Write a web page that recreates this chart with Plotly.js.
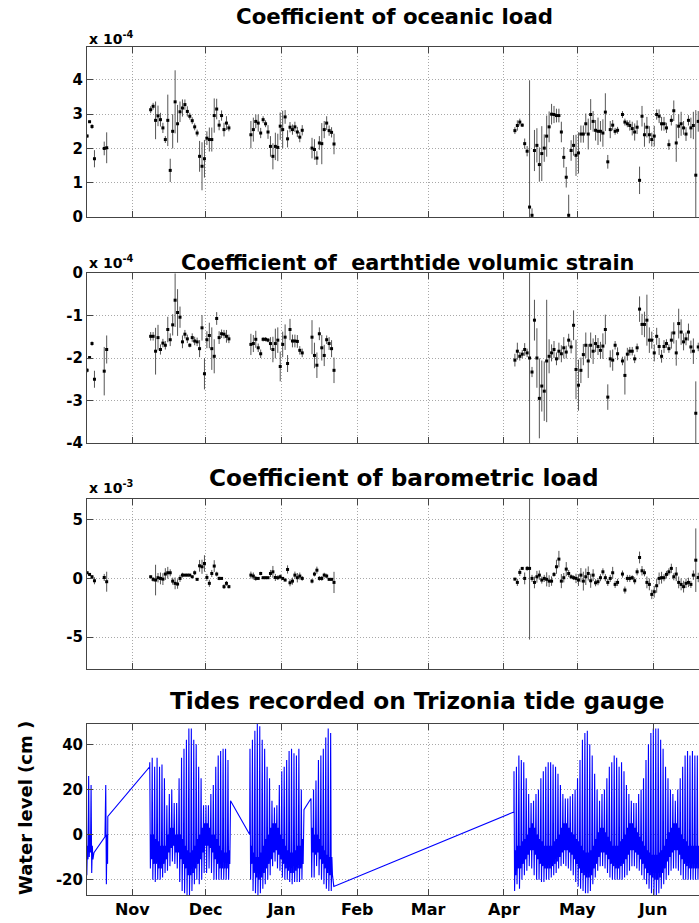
<!DOCTYPE html>
<html><head><meta charset="utf-8">
<script src="https://cdn.plot.ly/plotly-3.0.1.min.js"></script>
<style>html,body{margin:0;padding:0;background:#fff;overflow:hidden}#chart{width:699px;height:923px}</style>
</head><body><div id="chart"></div>
<script>
// ---- sampling days of the fitted coefficients (one estimate per day, at noon)
const coefDates = [
'2003-10-13','2003-10-14','2003-10-15','2003-10-16','2003-10-20','2003-10-21',
'2003-11-08','2003-11-09','2003-11-10','2003-11-11','2003-11-12','2003-11-13','2003-11-14','2003-11-15','2003-11-16','2003-11-17',
'2003-11-18','2003-11-19','2003-11-20','2003-11-21','2003-11-22','2003-11-23','2003-11-24','2003-11-25','2003-11-26','2003-11-27',
'2003-11-28','2003-11-29','2003-11-30','2003-12-01','2003-12-02','2003-12-03','2003-12-04','2003-12-05','2003-12-06','2003-12-07',
'2003-12-08','2003-12-09','2003-12-10',
'2003-12-19','2003-12-20','2003-12-21','2003-12-22','2003-12-23','2003-12-24','2003-12-25','2003-12-26','2003-12-27','2003-12-28',
'2003-12-29','2003-12-30','2003-12-31','2004-01-01','2004-01-02','2004-01-03','2004-01-04','2004-01-05','2004-01-06','2004-01-07',
'2004-01-08','2004-01-09',
'2004-01-13','2004-01-14','2004-01-15','2004-01-16','2004-01-17','2004-01-18','2004-01-19','2004-01-20','2004-01-21','2004-01-22',
'2004-04-05','2004-04-06','2004-04-07','2004-04-08','2004-04-09','2004-04-10','2004-04-11','2004-04-12','2004-04-13','2004-04-14',
'2004-04-15','2004-04-16','2004-04-17','2004-04-18','2004-04-19','2004-04-20','2004-04-21','2004-04-22','2004-04-23','2004-04-24',
'2004-04-25','2004-04-26','2004-04-27','2004-04-28','2004-04-29','2004-04-30',
'2004-05-01','2004-05-02','2004-05-03','2004-05-04','2004-05-05','2004-05-06','2004-05-07','2004-05-08','2004-05-09','2004-05-10',
'2004-05-11','2004-05-12','2004-05-13','2004-05-14','2004-05-15','2004-05-16','2004-05-17',
'2004-05-19','2004-05-20','2004-05-21','2004-05-22','2004-05-23','2004-05-24','2004-05-25','2004-05-26','2004-05-27','2004-05-28',
'2004-05-29','2004-05-30','2004-05-31',
'2004-06-01','2004-06-02','2004-06-03','2004-06-04','2004-06-05','2004-06-06','2004-06-07','2004-06-08','2004-06-09','2004-06-10',
'2004-06-11','2004-06-12','2004-06-13','2004-06-14','2004-06-15','2004-06-16','2004-06-17','2004-06-18','2004-06-19'];

// ---- coefficient of oceanic load (x 1e-4)
const oceanic = [
2.36,2.78,2.64,1.70,2.00,2.02,
3.13,3.23,2.82,2.95,2.84,2.60,2.26,2.82,1.36,2.50,3.36,2.72,3.07,3.18,3.28,3.08,2.94,2.81,2.63,2.45,1.77,1.48,1.70,2.30,2.26,2.26,2.96,3.15,2.68,2.96,2.55,2.74,2.60,
2.40,2.55,2.79,2.74,2.45,2.84,2.72,2.48,2.06,1.77,2.06,2.03,2.65,2.55,2.92,2.28,2.62,2.55,2.63,2.48,2.33,2.53,
2.01,1.97,1.72,2.16,2.14,2.55,2.74,2.52,2.47,2.13,
2.52,2.67,2.77,2.68,2.14,1.92,0.29,0.05,1.94,2.09,1.53,1.85,2.01,2.36,2.63,3.00,2.99,2.96,2.96,2.48,1.74,1.16,0.05,1.94,2.09,1.80,
1.87,2.42,2.42,2.72,2.42,2.99,2.79,2.53,2.50,2.50,2.45,3.06,1.61,2.55,2.68,2.50,2.53,
2.99,2.77,2.72,2.67,2.58,2.48,2.62,1.07,2.94,2.40,2.62,2.40,2.26,
2.36,2.99,2.94,2.72,2.72,2.60,2.11,2.82,3.10,2.16,2.65,2.72,2.60,2.42,2.82,2.60,2.67,1.22,2.79];
const oceanicErr = [
0.05,0.03,0.07,0.25,0.20,0.45,
0.10,0.10,0.55,0.30,0.20,0.15,0.10,0.75,0.34,0.50,0.92,0.55,0.30,0.25,0.15,0.15,0.10,0.10,0.10,0.10,0.45,0.70,0.55,0.20,0.35,0.35,0.50,0.30,0.15,0.15,0.20,0.20,0.10,
0.40,0.35,0.20,0.25,0.15,0.10,0.10,0.20,0.30,0.38,0.40,0.40,0.40,0.55,0.20,0.25,0.15,0.15,0.15,0.15,0.15,0.15,
0.30,0.30,0.20,0.20,0.60,0.25,0.20,0.15,0.15,0.30,
0.10,0.15,0.10,0.05,0.15,0.15,3.70,0.20,0.60,0.50,0.50,0.80,0.40,0.60,0.45,0.30,0.25,0.20,0.20,0.30,0.30,0.30,0.60,0.30,0.30,0.60,
0.60,0.25,0.25,0.30,0.45,0.45,0.30,0.30,0.40,0.30,0.40,0.55,0.20,0.25,0.15,0.10,0.10,
0.10,0.10,0.10,0.15,0.20,0.25,0.20,0.40,0.30,0.35,0.30,0.25,0.20,
0.30,0.15,0.20,0.20,0.20,0.15,0.15,0.15,0.30,0.55,0.35,0.35,0.20,0.20,0.15,0.30,0.40,1.90,0.30];

// ---- coefficient of earthtide volumic strain (x 1e-4)
const earthtide = [
-2.29,-1.99,-1.66,-2.50,-2.31,-1.80,
-1.49,-1.49,-1.84,-1.52,-1.80,-1.65,-1.70,-1.33,-1.57,-1.22,-0.64,-0.93,-1.04,-1.62,-1.44,-1.55,-1.70,-1.52,-1.60,-1.62,-1.78,-1.29,-2.37,-1.57,-1.47,-1.78,-1.96,-1.07,-1.52,-1.43,-1.44,-1.49,-1.55,
-1.68,-1.66,-1.56,-1.76,-1.90,-1.56,-1.56,-1.58,-1.66,-1.80,-1.66,-1.58,-2.20,-1.68,-1.51,-2.13,-1.33,-1.60,-1.60,-1.61,-1.82,-1.88,
-1.51,-1.94,-2.17,-1.43,-1.76,-1.94,-1.57,-1.66,-1.78,-2.29,
-2.05,-1.84,-1.96,-1.91,-1.80,-1.88,-2.00,-2.33,-1.11,-2.00,-2.95,-2.66,-2.78,-2.07,-1.96,-1.88,-1.80,-2.02,-1.84,-1.90,-1.76,-1.86,-1.58,-1.74,-1.23,-2.27,
-2.64,-2.29,-1.92,-1.70,-2.07,-1.70,-1.84,-1.66,-1.73,-1.82,-1.72,-1.33,-2.92,-2.02,-2.05,-1.70,-1.90,
-2.07,-2.41,-1.91,-1.84,-1.84,-2.02,-1.76,-0.85,-1.21,-1.21,-1.11,-1.58,-1.58,
-1.88,-1.49,-1.73,-1.96,-1.73,-1.66,-1.78,-1.58,-1.41,-1.88,-1.19,-1.39,-1.62,-1.55,-1.39,-1.74,-1.84,-3.30,-1.74];
const earthtideErr = [
0.05,0.03,0.05,0.20,0.57,0.33,
0.10,0.10,0.55,0.30,0.12,0.10,0.10,0.30,0.15,0.25,0.63,0.55,0.25,0.15,0.10,0.10,0.05,0.10,0.10,0.10,0.20,0.30,0.37,0.20,0.30,0.50,0.40,0.15,0.15,0.10,0.10,0.15,0.10,
0.25,0.20,0.20,0.10,0.10,0.05,0.05,0.05,0.15,0.30,0.35,0.30,0.35,0.30,0.30,0.20,0.25,0.15,0.15,0.15,0.10,0.10,
0.40,0.30,0.30,0.15,0.30,0.25,0.10,0.15,0.20,0.30,
0.15,0.20,0.10,0.10,0.15,0.10,2.50,0.12,0.48,0.70,0.94,0.60,0.70,1.44,0.40,0.20,0.20,0.15,0.20,0.20,0.25,0.15,0.15,0.15,0.35,0.70,
0.60,0.30,0.25,0.30,0.40,0.30,0.30,0.20,0.20,0.20,0.30,0.35,0.30,0.20,0.25,0.10,0.15,
0.10,0.45,0.15,0.10,0.10,0.10,0.10,0.30,0.25,0.30,0.60,0.30,0.20,
0.20,0.20,0.20,0.15,0.15,0.10,0.10,0.20,0.25,0.30,0.35,0.30,0.20,0.15,0.20,0.15,0.30,0.75,0.10];

// ---- coefficient of barometric load (x 1e-3)
const barometric = [
0.48,0.34,0.14,-0.20,0.08,-0.28,
0.14,-0.08,-0.14,0.06,0.00,-0.06,0.37,0.48,0.48,-0.23,-0.42,-0.48,0.00,0.28,0.28,0.28,0.28,0.14,0.48,-0.08,1.07,0.99,1.27,0.08,-0.42,0.42,1.05,0.37,0.00,0.00,-0.70,-0.42,-0.70,
0.28,0.20,0.00,0.00,0.42,0.06,0.06,0.06,0.42,0.56,0.08,0.06,0.14,0.00,-0.14,0.76,-0.37,-0.23,0.28,0.06,0.20,0.00,
-0.23,0.37,0.70,0.00,0.00,0.28,0.20,-0.08,-0.08,-0.34,
-0.06,-0.34,0.51,0.85,0.00,0.85,0.85,0.00,-0.34,0.14,0.28,-0.14,0.00,-0.08,-0.23,-0.23,0.34,0.99,1.64,-0.23,0.06,0.79,0.42,0.14,0.06,0.00,
-0.14,0.28,-0.23,0.14,0.42,-0.20,0.28,-0.37,-0.28,0.06,0.56,0.06,-0.34,0.00,0.48,-0.51,-0.34,
0.37,-0.99,0.00,0.00,0.06,-0.20,0.56,1.78,0.65,0.48,-0.34,-0.51,-1.36,
-1.13,-0.62,0.00,0.06,0.06,0.34,0.56,0.85,0.14,0.37,-0.34,-0.51,-0.70,-0.42,-0.34,-0.51,0.28,1.55,0.08];
const barometricErr = [
0.10,0.10,0.15,0.30,0.30,0.85,
0.10,0.20,1.30,0.40,0.50,0.50,0.50,0.50,0.30,0.30,0.50,0.40,0.30,0.20,0.10,0.10,0.10,0.10,0.20,0.10,0.50,0.60,0.70,0.30,0.30,0.30,0.50,0.20,0.15,0.10,0.20,0.20,0.15,
0.30,0.30,0.20,0.10,0.15,0.10,0.10,0.10,0.30,0.50,0.30,0.20,0.20,0.10,0.10,0.35,0.30,0.30,0.30,0.40,0.30,0.20,
0.20,0.20,0.30,0.20,0.20,0.20,0.20,0.10,0.10,0.90,
0.10,0.30,0.30,0.10,0.50,0.20,6.05,0.30,0.50,0.50,0.40,0.30,0.30,0.60,0.50,0.40,0.20,0.60,0.70,0.60,0.40,0.60,0.30,0.20,0.20,0.40,
0.50,0.60,0.80,0.70,0.60,0.60,0.50,0.30,0.30,0.30,0.30,0.30,0.30,0.30,0.50,0.30,0.30,
0.30,0.30,0.30,0.30,0.20,0.30,0.30,0.50,0.40,0.30,0.50,0.50,0.40,
0.50,0.60,0.50,0.50,0.30,0.30,0.30,0.40,0.30,0.60,0.50,0.50,0.50,0.40,0.40,0.30,0.40,2.70,0.40];

// ---- Trizonia tide gauge, per day: higher high, lower low, lower high, higher low water (cm)
const tideDays = [
'2003-10-13','2003-10-14','2003-10-15','2003-10-21',
'2003-11-08','2003-11-09','2003-11-10','2003-11-11','2003-11-12','2003-11-13','2003-11-14','2003-11-15','2003-11-16','2003-11-17',
'2003-11-18','2003-11-19','2003-11-20','2003-11-21','2003-11-22','2003-11-23','2003-11-24','2003-11-25','2003-11-26','2003-11-27',
'2003-11-28','2003-11-29','2003-11-30','2003-12-01','2003-12-02','2003-12-03','2003-12-04','2003-12-05','2003-12-06','2003-12-07',
'2003-12-08','2003-12-09','2003-12-10',
'2003-12-19','2003-12-20','2003-12-21','2003-12-22','2003-12-23','2003-12-24','2003-12-25','2003-12-26','2003-12-27','2003-12-28',
'2003-12-29','2003-12-30','2003-12-31','2004-01-01','2004-01-02','2004-01-03','2004-01-04','2004-01-05','2004-01-06','2004-01-07',
'2004-01-08','2004-01-09',
'2004-01-13','2004-01-14','2004-01-15','2004-01-16','2004-01-17','2004-01-18','2004-01-19','2004-01-20','2004-01-21',
'2004-04-05','2004-04-06','2004-04-07','2004-04-08','2004-04-09','2004-04-10','2004-04-11','2004-04-12','2004-04-13','2004-04-14',
'2004-04-15','2004-04-16','2004-04-17','2004-04-18','2004-04-19','2004-04-20','2004-04-21','2004-04-22','2004-04-23','2004-04-24',
'2004-04-25','2004-04-26','2004-04-27','2004-04-28','2004-04-29','2004-04-30',
'2004-05-01','2004-05-02','2004-05-03','2004-05-04','2004-05-05','2004-05-06','2004-05-07','2004-05-08','2004-05-09','2004-05-10',
'2004-05-11','2004-05-12','2004-05-13','2004-05-14','2004-05-15','2004-05-16','2004-05-17','2004-05-18','2004-05-19','2004-05-20',
'2004-05-21','2004-05-22','2004-05-23','2004-05-24','2004-05-25','2004-05-26','2004-05-27','2004-05-28','2004-05-29','2004-05-30','2004-05-31',
'2004-06-01','2004-06-02','2004-06-03','2004-06-04','2004-06-05','2004-06-06','2004-06-07','2004-06-08','2004-06-09','2004-06-10',
'2004-06-11','2004-06-12','2004-06-13','2004-06-14','2004-06-15','2004-06-16','2004-06-17','2004-06-18','2004-06-19'];
const tideHigh = [
28,26,22,22,
32,34,30,34,30,31,25,13,18,20,14,14,25,34,38,42,47,47,42,40,30,25,13,13,13,18,22,30,35,37,38,38,33,
38,42,46,49,48,42,38,30,25,15,12,13,22,28,30,33,37,38,36,35,38,20,
10,20,24,33,35,38,43,47,45,
28,30,35,33,32,25,18,14,15,18,20,25,28,30,32,32,31,30,27,22,18,16,16,17,18,20,
25,33,42,45,46,40,35,27,20,15,18,20,25,30,32,35,34,30,32,28,22,18,15,14,14,18,20,25,33,40,45,
47,47,47,42,38,30,25,20,18,15,20,25,30,35,37,35,37,35,35];
const tideLow = [
-18,-10,-17,-22,
-15,-20,-21,-20,-20,-19,-17,-16,-14,-12,-13,-15,-21,-25,-26,-27,-27,-25,-22,-20,-22,-20,-17,-17,-15,-17,-20,-20,-20,-20,-20,-20,-20,
-20,-25,-26,-27,-26,-24,-22,-20,-18,-14,-12,-15,-16,-19,-20,-20,-21,-22,-21,-21,-21,-20,
-19,-19,-14,-18,-20,-22,-24,-25,-25,
-25,-22,-24,-20,-18,-16,-14,-15,-18,-20,-20,-21,-21,-20,-20,-19,-18,-17,-15,-14,-13,-14,-15,-16,-18,-21,
-23,-24,-25,-26,-26,-25,-22,-19,-16,-14,-14,-15,-17,-19,-20,-20,-20,-20,-20,-19,-18,-16,-14,-14,-15,-16,-18,-20,-22,-24,-26,
-27,-27,-26,-24,-22,-20,-18,-16,-15,-15,-16,-18,-20,-20,-20,-20,-20,-20,-20];
const tideLowerHigh = [
-5,0,-5,0,
0,0,-2,-3,-5,-5,-5,0,3,3,0,0,0,-2,-5,-7,-8,-7,-5,-2,0,3,5,5,3,0,0,-2,-5,-7,-8,-8,-7,
-5,-8,-10,-10,-8,-5,-2,0,3,5,5,3,0,-2,-5,-7,-8,-8,-7,-5,-5,-2,
3,0,0,-2,-5,-7,-9,-10,-10,
-7,-5,-5,-3,-2,0,3,5,3,0,-2,-3,-5,-5,-5,-5,-3,-2,0,3,5,5,3,1,0,-2,
-3,-5,-7,-8,-8,-7,-5,-2,1,3,3,1,-1,-3,-5,-5,-5,-3,-2,0,3,5,5,3,1,-1,-3,-5,-7,-8,-9,
-9,-9,-8,-7,-5,-2,1,3,5,5,3,0,-2,-3,-5,-5,-5,-5,-5];
const tideHigherLow = [
-11,-8,-11,-13,
-11,-13,-13,-15,-15,-13,-11,-8,-6,-5,-8,-8,-11,-13,-15,-18,-18,-17,-15,-13,-11,-8,-5,-5,-6,-8,-11,-13,-15,-15,-15,-15,-13,
-13,-17,-19,-20,-19,-17,-15,-13,-11,-8,-7,-9,-11,-13,-15,-16,-17,-17,-16,-15,-15,-13,
-8,-9,-8,-11,-13,-15,-17,-18,-18,
-18,-15,-15,-13,-11,-9,-7,-7,-9,-11,-13,-14,-15,-15,-15,-14,-13,-12,-10,-8,-7,-7,-8,-9,-11,-13,
-15,-17,-18,-19,-19,-18,-15,-13,-10,-8,-8,-9,-11,-13,-14,-15,-15,-14,-13,-11,-9,-7,-7,-8,-9,-11,-13,-15,-17,-18,-19,
-20,-20,-19,-17,-15,-12,-10,-8,-7,-7,-9,-11,-13,-14,-15,-15,-15,-15,-15];
// readings at the ends of the recording gaps (joined by straight lines in the plot)
const tideLinkTimes = ['2003-10-16 07:00','2003-10-20 19:00','2003-10-21 23:00','2003-11-08 02:00','2003-12-11 04:00',
  '2003-12-19 00:00','2004-01-10 05:00','2004-01-13 02:00','2004-01-22 10:00','2004-04-05 02:00'];
const tideLinkLevels = [-8,-1,8,30,15,0,11,16,-23,10];

const monthTicks = ['2003-11-01','2003-12-01','2004-01-01','2004-02-01','2004-03-01','2004-04-01','2004-05-01','2004-06-01'];
const monthLabels = ['Nov','Dec','Jan','Feb','Mar','Apr','May','Jun'];
const panelTitles = ['Coefficient of oceanic load','Coefficient of  earthtide volumic strain','Coefficient of barometric load','Tides recorded on Trizonia tide gauge'];
const scaleLabels = ['x 10<sup>-4</sup>','x 10<sup>-4</sup>','x 10<sup>-3</sup>'];

// ---------------- build
const H = 923, L = 87, W = 612;
const py = p => 1 - p / H;          // pixel row -> paper y
const px = p => (p - L) / W;        // pixel column -> paper x
const FONT = 'DejaVu Sans';
const xTimes = coefDates.map(d => d + ' 12:00');

function coefTrace(vals, errs, k) {
  return {type:'scatter', mode:'markers', x:xTimes, y:vals, xaxis:'x'+(k>1?k:''), yaxis:'y'+(k>1?k:''),
    marker:{symbol:'square', size:3, color:'#000'},
    error_y:{type:'data', array:errs, visible:true, color:'#555', thickness:1, width:0},
    hoverinfo:'skip'};
}
const tidePts = [];
tideDays.forEach((d, i) => {
  tidePts.push([d + ' 03:00', tideHigh[i]]);
  tidePts.push([d + ' 09:00', tideLow[i]]);
  tidePts.push([d + ' 15:00', tideLowerHigh[i]]);
  tidePts.push([d + ' 21:00', tideHigherLow[i]]);
});
tideLinkTimes.forEach((t, i) => tidePts.push([t, tideLinkLevels[i]]));
tidePts.sort((a, b) => a[0] < b[0] ? -1 : a[0] > b[0] ? 1 : 0);

const traces = [
  coefTrace(oceanic, oceanicErr, 1),
  coefTrace(earthtide, earthtideErr, 2),
  coefTrace(barometric, barometricErr, 3),
  {type:'scatter', mode:'lines', x:tidePts.map(p => p[0]), y:tidePts.map(p => p[1]), xaxis:'x4', yaxis:'y4',
   line:{color:'#0000ff', width:1.1}, hoverinfo:'skip'}
];

const xRange = ['2003-10-13 10:48', '2004-06-19 19:30'];
const GRID = '#a8a8a8', AX = '#444';
const tickFont = {family:FONT, size:15, color:'#000', weight:'bold'};
function xAxis(k, labels) {
  return {type:'date', range:xRange, anchor:'y'+(k>1?k:''), domain:[0,1],
    tickmode:'array', tickvals:monthTicks, ticktext:monthLabels, showticklabels:labels,
    ticks:'inside', ticklen:6, tickcolor:AX, showline:true, linecolor:AX, linewidth:1, mirror:'ticks',
    showgrid:true, gridcolor:GRID, griddash:'1px,2px', gridwidth:1, zeroline:false,
    tickfont:{family:FONT, size:16, color:'#000', weight:'bold'}, fixedrange:true};
}
function yAxis(k, dom, range, vals, texts) {
  return {domain:dom, range:range, anchor:'x'+(k>1?k:''), tickmode:'array', tickvals:vals, ticktext:texts,
    ticks:'inside', ticklen:6, tickcolor:AX, showline:true, linecolor:AX, linewidth:1, mirror:false,
    showgrid:true, gridcolor:GRID, griddash:'1px,2px', gridwidth:1, zeroline:false,
    tickfont:tickFont, fixedrange:true};
}

const titleSpec = [[394,16,21.3],[407,263,20.8],[404,477,23.2],[417,700,23.2]];
const annotations = panelTitles.map((t, i) => ({text:t, xref:'paper', yref:'paper', x:px(titleSpec[i][0]), y:py(titleSpec[i][1]),
  xanchor:'center', yanchor:'middle', showarrow:false, font:{family:FONT, size:titleSpec[i][2], color:'#000', weight:'bold'}}));
const scaleRows = [49, 273, 498];
scaleLabels.forEach((t, i) => annotations.push({text:t, xref:'paper', yref:'paper', x:0, y:py(scaleRows[i]),
  xanchor:'left', yanchor:'bottom', showarrow:false, font:{family:FONT, size:14, color:'#000', weight:'bold'}}));
annotations.push({text:'Water level (cm )', xref:'paper', yref:'paper', x:px(25), y:py(808), textangle:-90,
  xanchor:'center', yanchor:'middle', showarrow:false, font:{family:FONT, size:18, color:'#000', weight:'bold'}});

const layout = {
  width:699, height:923, margin:{l:L, r:0, t:0, b:0}, showlegend:false,
  paper_bgcolor:'#fff', plot_bgcolor:'#fff', font:{family:FONT, color:'#000'},
  xaxis:xAxis(1,false), xaxis2:xAxis(2,false), xaxis3:xAxis(3,false), xaxis4:xAxis(4,true),
  yaxis:yAxis(1,[py(217),py(47)],[0,4.96],[0,1,2,3,4],['0','1','2','3','4']),
  yaxis2:yAxis(2,[py(443),py(273)],[-4,0],[-4,-3,-2,-1,0],['-4','-3','-2','-1','0']),
  yaxis3:yAxis(3,[py(669),py(499)],[-7.7,6.75],[-5,0,5],['-5','0','5']),
  yaxis4:yAxis(4,[py(895),py(724)],[-26.8,49],[-20,0,20,40],['-20','0','20','40']),
  annotations:annotations
};
Plotly.newPlot('chart', traces, layout, {displayModeBar:false, staticPlot:true});
</script></body></html>
